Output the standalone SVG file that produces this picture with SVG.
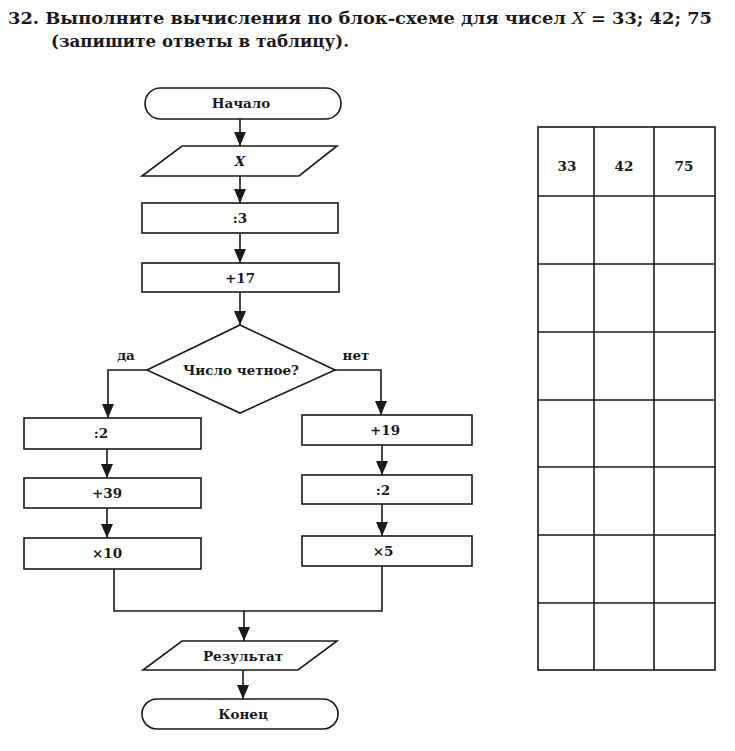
<svg xmlns="http://www.w3.org/2000/svg" width="735" height="751" viewBox="0 0 735 751">
<defs>
<style>
.s{fill:#fff;stroke:#1a1a1a;stroke-width:1.6}
.c{fill:none;stroke:#1a1a1a;stroke-width:1.6}
.t{font-family:"DejaVu Serif","Liberation Serif",serif;font-weight:bold;font-size:13.5px;fill:#1a1a1a;text-anchor:middle}
.h{font-family:"DejaVu Serif","Liberation Serif",serif;font-weight:bold;font-size:16px;fill:#1a1a1a}
.g{fill:none;stroke:#1a1a1a;stroke-width:1.6}
.a{fill:#1a1a1a}
</style>
</defs>
<rect width="735" height="751" fill="#fff"/>
<text class="h" x="8" y="24" textLength="704" lengthAdjust="spacingAndGlyphs">32. Выполните вычисления по блок-схеме для чисел <tspan font-style="italic" font-weight="normal">X</tspan> = 33; 42; 75</text>
<text class="h" x="51" y="47" textLength="298" lengthAdjust="spacingAndGlyphs">(запишите ответы в таблицу).</text>

<g id="connectors">
<path class="c" d="M240,119 V146"/>
<path class="c" d="M240,176 V203"/>
<path class="c" d="M240,233 V263"/>
<path class="c" d="M240,292 V325"/>
<path class="c" d="M147,370 H108 V418"/>
<path class="c" d="M335,370 H381 V415"/>
<path class="c" d="M107,449 V478"/>
<path class="c" d="M107,508 V538"/>
<path class="c" d="M382,445 V475"/>
<path class="c" d="M382,504 V536"/>
<path class="c" d="M114,569 V611 H382 V566"/>
<path class="c" d="M244,611 V641"/>
<path class="c" d="M243,670 V699"/>
<path class="a" d="M234,132 L246,132 L240,146 Z"/>
<path class="a" d="M234,189 L246,189 L240,203 Z"/>
<path class="a" d="M234,249 L246,249 L240,263 Z"/>
<path class="a" d="M234,311 L246,311 L240,325 Z"/>
<path class="a" d="M102,404 L114,404 L108,418 Z"/>
<path class="a" d="M375,401 L387,401 L381,415 Z"/>
<path class="a" d="M101,464 L113,464 L107,478 Z"/>
<path class="a" d="M101,524 L113,524 L107,538 Z"/>
<path class="a" d="M376,461 L388,461 L382,475 Z"/>
<path class="a" d="M376,522 L388,522 L382,536 Z"/>
<path class="a" d="M238,627 L250,627 L244,641 Z"/>
<path class="a" d="M237,685 L249,685 L243,699 Z"/>
<text class="t" x="126" y="360" font-size="13">да</text>
<text class="t" x="356" y="360" font-size="13">нет</text>
</g>

<g id="start"><rect class="s" x="145" y="88" width="196" height="31" rx="15.5"/><text class="t" x="241" y="108">Начало</text></g>
<g id="inputX"><path class="s" d="M182,146 H337 L299,176 H142 Z"/><text class="t" x="240" y="166" font-style="italic" font-weight="normal">X</text></g>
<g id="div3"><rect class="s" x="142" y="203" width="196" height="30"/><text class="t" x="240" y="223">:3</text></g>
<g id="plus17"><rect class="s" x="142" y="263" width="197" height="29"/><text class="t" x="240" y="283">+17</text></g>
<g id="cond"><path class="s" d="M240,325 L335,370 L240,413 L147,370 Z"/><text class="t" x="241" y="375">Число четное?</text></g>
<g id="div2L"><rect class="s" x="24" y="418" width="177" height="31"/><text class="t" x="101" y="438">:2</text></g>
<g id="plus39"><rect class="s" x="24" y="478" width="177" height="30"/><text class="t" x="107" y="498">+39</text></g>
<g id="mul10"><rect class="s" x="24" y="538" width="177" height="31"/><text class="t" x="107" y="558">×10</text></g>
<g id="plus19"><rect class="s" x="302" y="415" width="170" height="30"/><text class="t" x="385" y="435">+19</text></g>
<g id="div2R"><rect class="s" x="302" y="475" width="170" height="29"/><text class="t" x="383" y="495">:2</text></g>
<g id="mul5"><rect class="s" x="302" y="536" width="170" height="30"/><text class="t" x="383" y="556">×5</text></g>
<g id="result"><path class="s" d="M182,641 H337 L298,670 H143 Z"/><text class="t" x="243" y="661">Результат</text></g>
<g id="end"><rect class="s" x="142" y="699" width="196" height="30" rx="15"/><text class="t" x="243" y="719">Конец</text></g>

<g id="table">
<rect class="g" x="538" y="127" width="177" height="543"/>
<path class="g" d="M594,127 V670 M654,127 V670 M538,196 H715 M538,264 H715 M538,332 H715 M538,400 H715 M538,467 H715 M538,535 H715 M538,603 H715"/>
<text class="t" x="567" y="171" font-size="16">33</text>
<text class="t" x="624" y="171" font-size="16">42</text>
<text class="t" x="684" y="171" font-size="16">75</text>
</g>
</svg>
